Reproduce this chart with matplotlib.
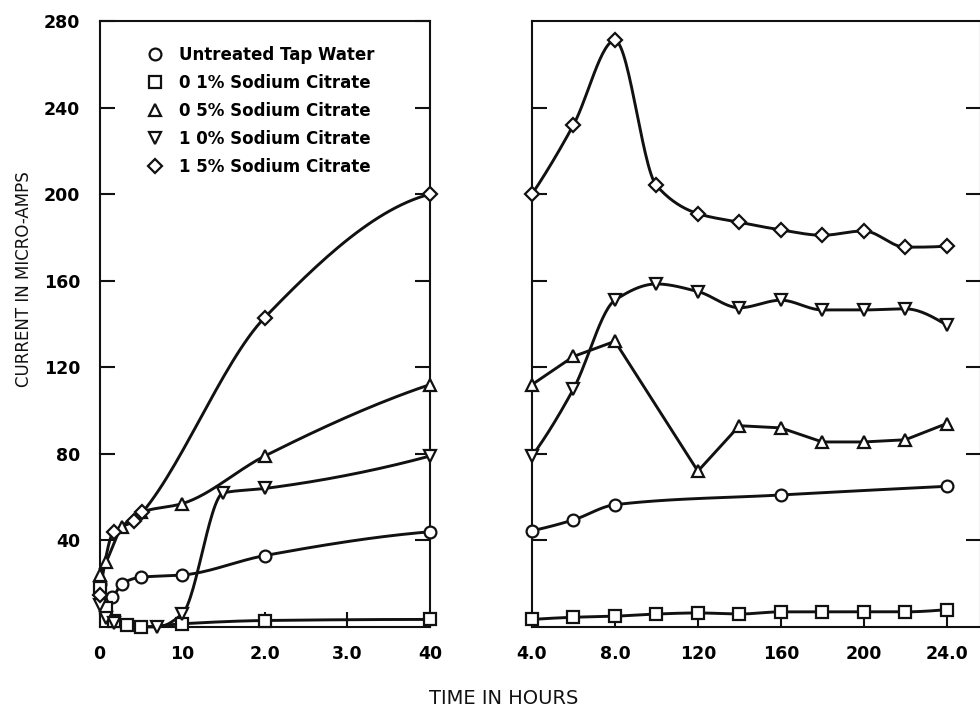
import numpy as np
import matplotlib
matplotlib.use("Agg")
import matplotlib.pyplot as plt
from matplotlib.lines import Line2D

# ---------------- data ----------------
series_labels = ["Untreated Tap Water", "0 1% Sodium Citrate", "0 5% Sodium Citrate",
                 "1 0% Sodium Citrate", "1 5% Sodium Citrate"]
series_markers = ["o", "s", "^", "v", "D"]

# left panel (0 - 4 hours)
left_t_tap = [0, 0.15, 0.27, 0.5, 1.0, 2.0, 4.0]
left_v_tap = [20, 14, 20, 23, 24, 33, 44]
left_t_01 = [0, 0.08, 0.17, 0.33, 0.5, 1.0, 2.0, 4.0]
left_v_01 = [18, 9, 3, 1, 0, 1.5, 3, 3.5]
left_t_05 = [0, 0.08, 0.27, 0.5, 1.0, 2.0, 4.0]
left_v_05 = [24, 30, 46, 53, 57, 79, 112]
left_t_10 = [0, 0.08, 0.17, 0.7, 1.0, 1.5, 2.0, 4.0]
left_v_10 = [10, 4, 2, 0, 6, 62, 64, 79]
left_t_15 = [0, 0.17, 0.42, 0.52, 2.0, 4.0]
left_v_15 = [15, 44, 49, 53, 143, 200]

# right panel (4 - 24 hours)
right_t = [4, 6, 8, 10, 12, 14, 16, 18, 20, 22, 24]
right_t_tap = [4, 6, 8, 16, 24]
right_v_tap = [44.5, 49.5, 56.5, 61, 65]
right_v_01 = [3.5, 4.5, 5, 6, 6.5, 6, 7, 7, 7, 7, 8]
right_t_05 = [4, 6, 8, 12, 14, 16, 18, 20, 22, 24]
right_v_05 = [112, 125, 132, 72, 93, 92, 85.5, 85.5, 86.5, 94]
right_v_10 = [79, 110, 151, 158.5, 155, 147.5, 151, 146.5, 146.5, 147, 139.5]
right_v_15 = [200, 232, 271, 204, 191, 187, 183.5, 181, 183, 175.5, 176]

left_xticks = [0, 1, 2, 3, 4]
left_xticklabels = ["0", "10", "2.0", "3.0", "40"]
right_xticks = [4, 8, 12, 16, 20, 24]
right_xticklabels = ["4.0", "8.0", "120", "160", "200", "24.0"]
yticks = [40, 80, 120, 160, 200, 240, 280]
yticklabels = ["40", "80", "120", "160", "200", "240", "280"]

x_label = "TIME IN HOURS"
y_label = "CURRENT IN MICRO-AMPS"


# ---------------- helpers ----------------
def pchip_curve(x, y, n=30):
    x = np.asarray(x, float)
    y = np.asarray(y, float)
    if len(x) < 3:
        return x, y
    h = np.diff(x)
    d = np.diff(y) / h
    m = np.zeros_like(y)
    for k in range(1, len(x) - 1):
        if d[k - 1] * d[k] <= 0:
            m[k] = 0.0
        else:
            w1 = 2 * h[k] + h[k - 1]
            w2 = h[k] + 2 * h[k - 1]
            m[k] = (w1 + w2) / (w1 / d[k - 1] + w2 / d[k])

    def end(h0, h1, d0, d1):
        mm = ((2 * h0 + h1) * d0 - h0 * d1) / (h0 + h1)
        if np.sign(mm) != np.sign(d0):
            mm = 0.0
        elif np.sign(d0) != np.sign(d1) and abs(mm) > abs(3 * d0):
            mm = 3 * d0
        return mm

    m[0] = end(h[0], h[1], d[0], d[1])
    m[-1] = end(h[-1], h[-2], d[-1], d[-2])
    xs, ys = [], []
    for k in range(len(x) - 1):
        s = np.linspace(0, 1, n, endpoint=(k == len(x) - 2))
        h00 = 2 * s**3 - 3 * s**2 + 1
        h10 = s**3 - 2 * s**2 + s
        h01 = -2 * s**3 + 3 * s**2
        h11 = s**3 - s**2
        xs.append(x[k] + s * h[k])
        ys.append(h00 * y[k] + h10 * h[k] * m[k] + h01 * y[k + 1] + h11 * h[k] * m[k + 1])
    return np.concatenate(xs), np.concatenate(ys)


INK = "#111111"
LW = 2.1
MS = {"o": 8.5, "s": 8.0, "^": 8.5, "v": 8.5, "D": 7.0}


def draw_series(ax, t, v, mk, smooth=True):
    if smooth:
        cx, cy = pchip_curve(t, v)
    else:
        cx, cy = t, v
    ax.plot(cx, cy, color=INK, lw=LW, solid_capstyle="round", solid_joinstyle="round",
            clip_on=False, zorder=3)
    ax.plot(t, v, ls="none", marker=mk, ms=MS[mk], mfc="white", mec=INK, mew=1.6,
            clip_on=False, zorder=4)


# ---------------- figure ----------------
W, H = 980, 712
fig = plt.figure(figsize=(W / 100, H / 100), dpi=100)
fig.patch.set_facecolor("white")

bottom_px, top_px = 627, 21
axL = fig.add_axes([99.5 / W, 1 - bottom_px / H, (430 - 99.5) / W, (bottom_px - top_px) / H])
axR = fig.add_axes([532 / W, 1 - bottom_px / H, (981 - 532) / W, (bottom_px - top_px) / H])

left_sets = [(left_t_tap, left_v_tap), (left_t_01, left_v_01), (left_t_05, left_v_05),
             (left_t_10, left_v_10), (left_t_15, left_v_15)]
right_sets = [(right_t_tap, right_v_tap), (right_t, right_v_01), (right_t_05, right_v_05),
              (right_t, right_v_10), (right_t, right_v_15)]
right_smooth = [True, True, False, True, True]

for (t, v), mk in zip(left_sets, series_markers):
    draw_series(axL, t, v, mk)
for (t, v), mk, sm in zip(right_sets, series_markers, right_smooth):
    draw_series(axR, t, v, mk, sm)

axL.set_xlim(0, 4)
axR.set_xlim(4, 4 + (981 - 532) / ((946.7 - 532) / 20))
for ax in (axL, axR):
    ax.set_ylim(0, 280)
    for sp in ax.spines.values():
        sp.set_linewidth(1.5)
        sp.set_color(INK)
    ax.tick_params(direction="in", length=11, width=1.5, color=INK,
                   top=False, right=True, left=True, bottom=True)
    ax.set_facecolor("none")

tick_font = dict(family="DejaVu Sans", weight="bold", size=12.5)

axL.set_yticks(yticks)
axL.set_yticklabels(yticklabels, **tick_font)
axL.tick_params(axis="y", pad=14)
axL.set_xticks(left_xticks)
axL.set_xticklabels(left_xticklabels, **tick_font)
axL.tick_params(axis="x", pad=13)

axR.set_yticks(yticks[:-1])
axR.set_yticklabels([])
axR.set_xticks(right_xticks)
axR.set_xticklabels(right_xticklabels, **tick_font)
axR.tick_params(axis="x", pad=13)

# legend
handles = [Line2D([], [], ls="none", marker=mk, ms=MS[mk], mfc="white", mec=INK, mew=1.6)
           for mk in series_markers]
leg = axL.legend(handles, series_labels, loc="upper left",
                 bbox_to_anchor=((147 - 99.5) / 330.5, (627 - 46) / 606),
                 frameon=False, handlelength=1.0, handletextpad=0.9,
                 borderpad=0, borderaxespad=0, labelspacing=0.6,
                 prop=dict(family="DejaVu Sans", weight="bold", size=12))

fig.text(504 / W, 1 - 699 / H, x_label, ha="center", va="center",
         family="DejaVu Sans", size=14, color=INK)
fig.text(24 / W, 1 - 279 / H, y_label, ha="center", va="center", rotation=90,
         family="DejaVu Sans", size=12, color=INK)

fig.savefig("out.png", dpi=100, facecolor="white")
